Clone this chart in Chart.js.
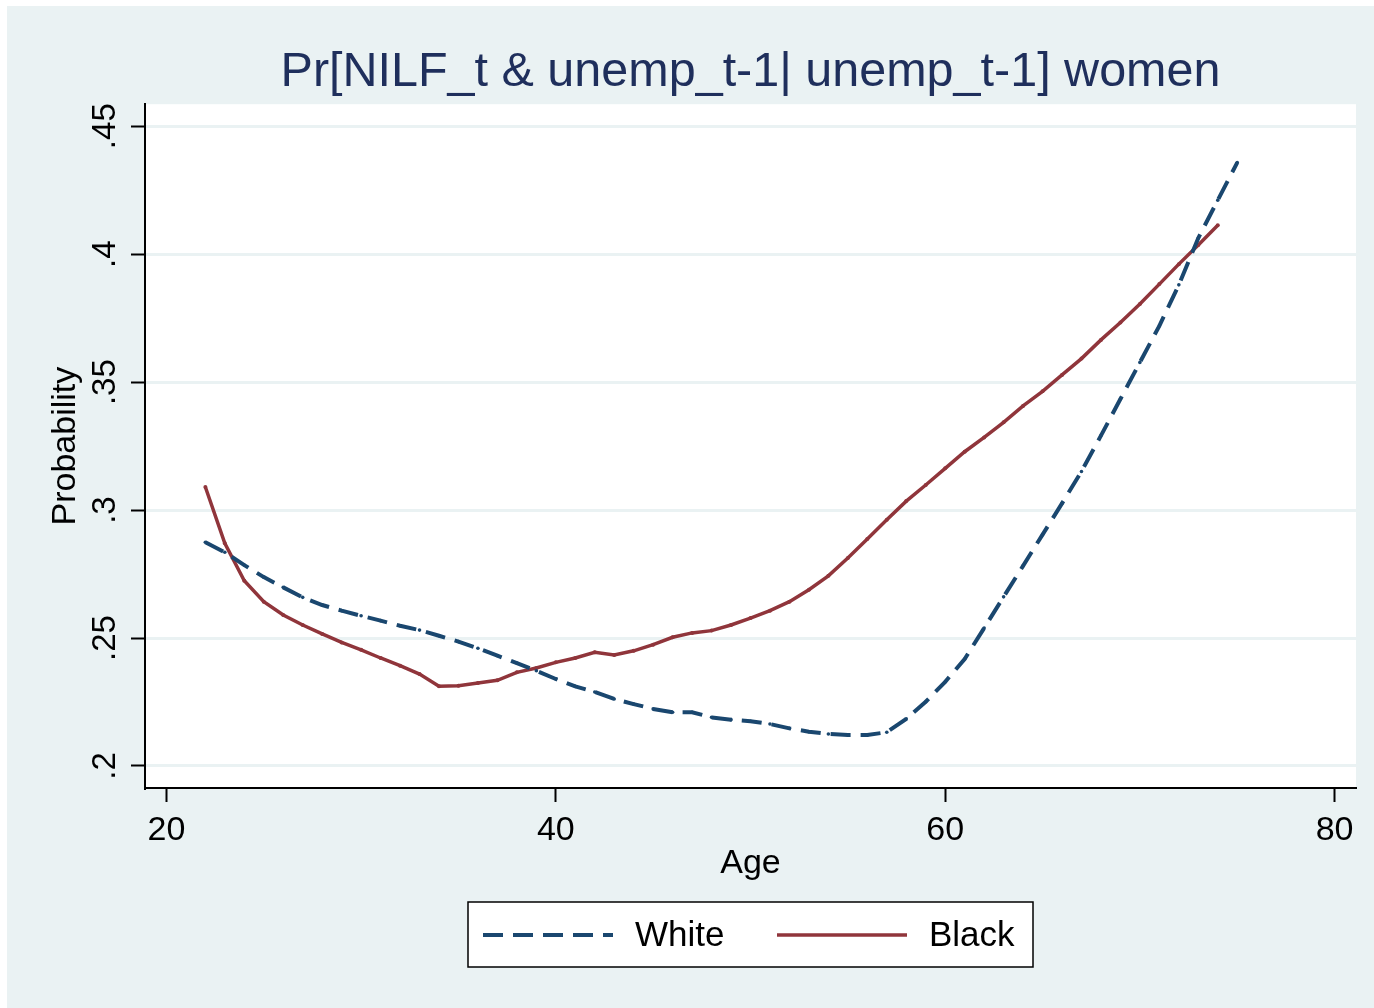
<!DOCTYPE html>
<html>
<head>
<meta charset="utf-8">
<title>Pr[NILF_t & unemp_t-1| unemp_t-1] women</title>
<script src="https://cdn.jsdelivr.net/npm/chart.js@4.4.1/dist/chart.umd.min.js"></script>
<style>
    html, body { margin: 0; padding: 0; background: #ffffff; }
    #wrap { position: absolute; left: 0; top: 0; width: 1374px; height: 1008px; }
</style>
</head>
<body>
<div id="wrap"><canvas id="nilfChart" width="1374" height="1008"></canvas></div>
<script>
// Values
const whiteAge = [22, 23, 24, 25, 26, 27, 28, 29, 30, 31, 32, 33, 34, 35, 36, 37, 38, 39, 40,
    41, 42, 43, 44, 45, 46, 47, 48, 49, 50, 51, 52, 53, 54, 55, 56, 57, 58, 59, 60,
    61, 62, 63, 64, 65, 66, 67, 68, 69, 70, 71, 72, 73, 74, 75];
const whiteProb = [0.2874, 0.2835, 0.2785, 0.2738, 0.2698, 0.2659, 0.2629, 0.2607, 0.2587,
    0.2568, 0.2548, 0.2531, 0.2509, 0.2486, 0.2460, 0.2431, 0.2402, 0.2372, 0.2340,
    0.2311, 0.2289, 0.2262, 0.2242, 0.2223, 0.2210, 0.2210, 0.2190, 0.2181, 0.2175,
    0.2164, 0.2147, 0.2134, 0.2125, 0.2121, 0.2121, 0.2132, 0.2184, 0.2251, 0.2329,
    0.2418, 0.2539, 0.2661, 0.2782, 0.2904, 0.3026, 0.3151, 0.3291, 0.3434, 0.3577,
    0.3720, 0.3880, 0.4063, 0.4211, 0.4358];

const blackAge = [22, 23, 24, 25, 26, 27, 28, 29, 30, 31, 32, 33, 34, 35, 36, 37, 38, 39, 40,
    41, 42, 43, 44, 45, 46, 47, 48, 49, 50, 51, 52, 53, 54, 55, 56, 57, 58, 59, 60,
    61, 62, 63, 64, 65, 66, 67, 68, 69, 70, 71, 72, 73, 74];
const blackProb = [0.3090, 0.2870, 0.2724, 0.2642, 0.2590, 0.2551, 0.2516, 0.2483, 0.2454,
    0.2422, 0.2392, 0.2359, 0.2312, 0.2314, 0.2324, 0.2335, 0.2366, 0.2383, 0.2405,
    0.2422, 0.2444, 0.2434, 0.2450, 0.2474, 0.2503, 0.2520, 0.2529, 0.2551, 0.2578,
    0.2607, 0.2642, 0.2689, 0.2743, 0.2813, 0.2887, 0.2962, 0.3035, 0.3098, 0.3163,
    0.3228, 0.3284, 0.3343, 0.3407, 0.3464, 0.3528, 0.3592, 0.3665, 0.3733, 0.3805,
    0.3883, 0.3961, 0.4036, 0.4113];

const seriesNames = ['White', 'Black'];
const xTicks = [20, 40, 60, 80];
const yTicks = [0.2, 0.25, 0.3, 0.35, 0.4, 0.45];

const FONT = '"Liberation Sans", Arial, Helvetica, sans-serif';
const OUTER_BG = '#EAF2F3';
Chart.defaults.font.family = FONT;
Chart.defaults.color = '#000';

const toPoints = (xs, ys) => xs.map((x, i) => ({ x: x, y: ys[i] }));

// Stata writes .25 rather than 0.25
const stataLabel = v => Number(v.toFixed(2)).toString().replace(/^0\./, '.');

// Graph region background and white plot region
const backdrop = {
    id: 'backdrop',
    beforeDraw(chart) {
        const { ctx, chartArea: a } = chart;
        ctx.save();
        ctx.fillStyle = OUTER_BG;
        ctx.fillRect(7, 6, chart.width - 7, chart.height - 6);
        ctx.fillStyle = '#ffffff';
        ctx.fillRect(a.left, a.top, a.right - a.left, a.bottom - a.top);
        ctx.restore();
    }
};

// Boxed legend below the x axis title
const boxLegend = {
    id: 'boxLegend',
    afterDraw(chart) {
        const { ctx, chartArea: a } = chart;
        const w = 565, h = 65;
        const left = Math.round((a.left + a.right) / 2 - w / 2);
        const top = a.bottom + 114;
        const cy = top + 33;
        ctx.save();
        ctx.fillStyle = '#ffffff';
        ctx.fillRect(left, top, w, h);
        ctx.strokeStyle = '#000';
        ctx.lineWidth = 1.5;
        ctx.strokeRect(left, top, w, h);

        const offsets = [15, 309];
        chart.data.datasets.forEach((ds, i) => {
            const x0 = left + offsets[i];
            ctx.beginPath();
            ctx.setLineDash(ds.borderDash || []);
            ctx.strokeStyle = ds.borderColor;
            ctx.lineWidth = ds.borderWidth;
            ctx.moveTo(x0, cy);
            ctx.lineTo(x0 + 130, cy);
            ctx.stroke();
            ctx.setLineDash([]);
            ctx.fillStyle = '#000';
            ctx.font = '35px ' + FONT;
            ctx.textAlign = 'left';
            ctx.textBaseline = 'middle';
            ctx.fillText(ds.label, x0 + 152, cy + 1);
        });
        ctx.restore();
    }
};

new Chart(document.getElementById('nilfChart'), {
    type: 'line',
    data: {
        datasets: [{
            label: seriesNames[0],
            data: toPoints(whiteAge, whiteProb),
            borderColor: '#1A476F',
            backgroundColor: '#1A476F',
            borderWidth: 4,
            borderDash: [20, 10],
            pointRadius: 1.8,
            pointBorderWidth: 0,
            fill: false,
            tension: 0
        }, {
            label: seriesNames[1],
            data: toPoints(blackAge, blackProb),
            borderColor: '#90353B',
            backgroundColor: '#90353B',
            borderWidth: 3.5,
            pointRadius: 2,
            pointBorderWidth: 0,
            fill: false,
            tension: 0
        }]
    },
    options: {
        responsive: false,
        animation: false,
        layout: { padding: { left: 0, right: 18, top: 0, bottom: 0 } },
        plugins: {
            legend: { display: false },
            tooltip: { enabled: false },
            title: {
                display: true,
                text: 'Pr[NILF_t & unemp_t-1| unemp_t-1] women',
                color: '#1F2F5C',
                fullSize: false,
                font: { size: 48.5, weight: 'normal' },
                padding: { top: 44, bottom: 2 }
            }
        },
        scales: {
            x: {
                type: 'linear',
                min: 18.9,
                max: 81.1,
                afterBuildTicks: s => { s.ticks = xTicks.map(v => ({ value: v })); },
                afterFit: s => { s.height = 220; },
                border: { display: true, color: '#000', width: 2 },
                grid: { drawOnChartArea: false, tickColor: '#000', tickWidth: 2, tickLength: 14 },
                ticks: { color: '#000', font: { size: 34 }, padding: 8, maxRotation: 0, autoSkip: false },
                title: {
                    display: true, text: 'Age', color: '#000',
                    font: { size: 34 }, padding: { top: 0, bottom: 124 }
                }
            },
            y: {
                type: 'linear',
                min: 0.1914,
                max: 0.4586,
                afterBuildTicks: s => { s.ticks = yTicks.map(v => ({ value: v })); },
                afterFit: s => { s.width = 145; },
                border: { display: true, color: '#000', width: 2 },
                grid: { color: OUTER_BG, lineWidth: 3, tickColor: '#000', tickWidth: 2, tickLength: 14 },
                ticks: {
                    color: '#000', font: { size: 33 }, padding: 2,
                    minRotation: 90, maxRotation: 90, crossAlign: 'center', autoSkip: false,
                    callback: v => stataLabel(v)
                },
                title: {
                    display: true, text: 'Probability', color: '#000',
                    font: { size: 34 }, padding: { top: 45, bottom: 0 }
                }
            }
        }
    },
    plugins: [backdrop, boxLegend]
});
</script>
</body>
</html>
